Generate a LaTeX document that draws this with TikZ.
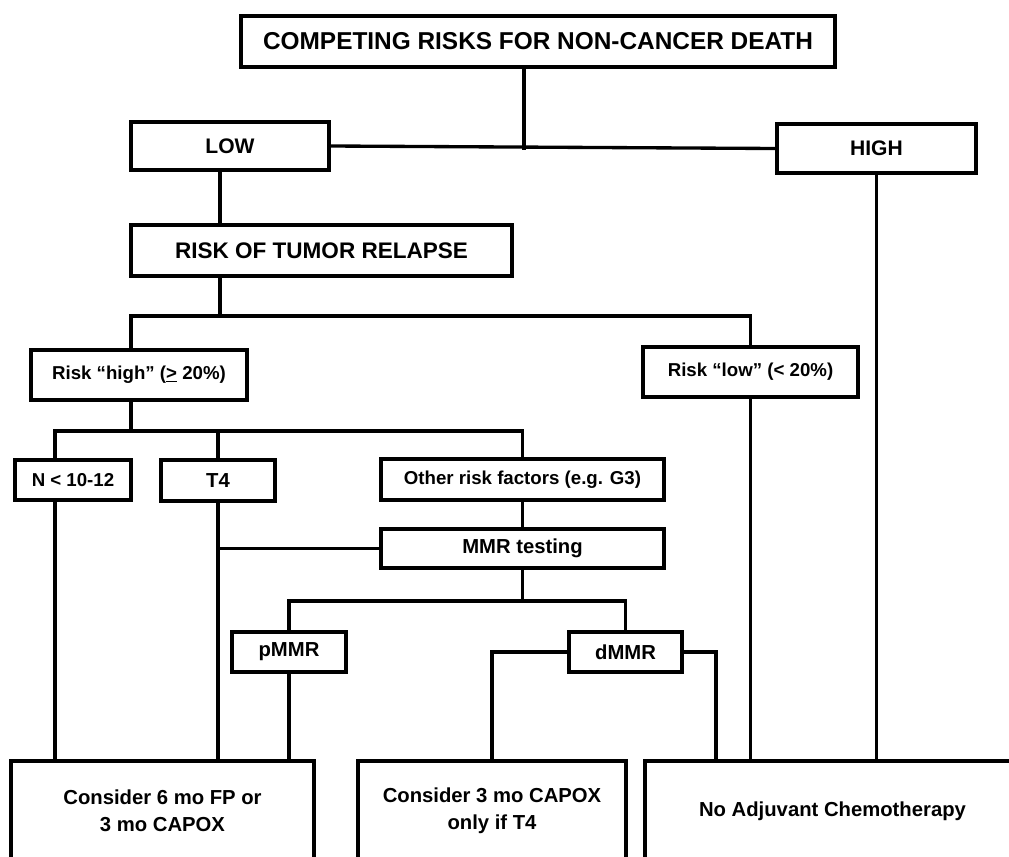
\documentclass[tikz,border=0pt]{standalone}
\usepackage{fontspec}
\setmainfont{Liberation Sans}
\usetikzlibrary{positioning}
\tikzset{
  fc diagram/.style={x=0.75pt, y=-0.75pt, line join=miter, text=black},
  fc size/.style 2 args={minimum width=#1*0.75pt, minimum height=#2*0.75pt},
  fc box/.style={draw, fill=white, line width=2.8pt, inner sep=0pt,
    align=center, font=\bfseries\fontsize{14}{17}\selectfont},
  fc head/.style={fc box, font=\bfseries\fontsize{18.3}{21}\selectfont},
  fc mid/.style={fc box, font=\bfseries\fontsize{15.8}{19}\selectfont},
  fc out/.style={fc box, font=\bfseries\fontsize{15.2}{20}\selectfont},
  fc line/.style={draw, line width=2.5pt, line cap=rect}
}
\begin{document}
\begin{tikzpicture}[fc diagram]
\useasboundingbox (0,0) rectangle (1009,856);
\fill[white] (0,0) rectangle (1009,856);
\clip (0,0) rectangle (1009,856);
% junctions
\coordinate (top split) at (524,148);
\coordinate (relapse split) at (220,316);
\coordinate (high split) at (131,431);
\coordinate (high left) at (55,431);
\coordinate (mmr split) at (522,601);
\coordinate (dmmr right) at (716,651);
% boxes
\node[fc head, fc size={594}{51}] (title) at (538,41.5) {COMPETING RISKS FOR NON-CANCER DEATH};
\node[fc mid, fc size={198}{48}] (low) at (230,146) {LOW};
\node[fc mid, fc size={199}{49}] (high) at (876.5,148.5) {HIGH};
\node[fc head, fc size={381}{51}, font=\bfseries\fontsize{16.9}{20}\selectfont] (relapse) at (321.5,250.5) {RISK OF TUMOR RELAPSE};
\node[fc box, fc size={216}{50}] (riskhigh) at (139,375) {Risk “high” (\underline{>} 20\%)};
\node[fc box, fc size={215}{50}] (risklow) at (750.5,372) {Risk “low” (< 20\%)};
\node[fc box, fc size={116}{40}] (nodes) at (73,480) {N < 10-12};
\node[fc out, fc size={114}{41}] (tfour) at (218,480.5) {T4};
\node[fc box, fc size={283}{41}] (other) at (522.5,479.5) {Other risk factors (e.g. G3)};
\node[fc out, fc size={283}{39}] (mmr) at (522.5,548.5) {MMR testing};
\node[fc out, fc size={114}{40}] (pmmr) at (289,652) {pMMR};
\node[fc out, fc size={113}{40}] (dmmr) at (625.5,652) {dMMR};
\node[fc out, fc size={303}{100}] (six) at (162.5,811) {Consider 6 mo FP or\\3 mo CAPOX};
\node[fc out, fc size={268}{100}] (three) at (492,811) {Consider 3 mo CAPOX\\only if T4};
\node[fc out, fc size={375}{100}] (none) at (832.5,811) {No Adjuvant Chemotherapy};
% connectors
\draw[fc line] (title.south -| top split) -- (top split);
\draw[fc line] (low.east) -- (high.west);
\draw[fc line] (low.south -| relapse split) -- (relapse.north -| relapse split);
\draw[fc line] (relapse.south -| relapse split) -- (relapse split);
\draw[fc line] (riskhigh.north -| high split) |- (risklow.north |- relapse split) -- (risklow.north);
\draw[fc line] (riskhigh.south -| high split) -- (high split);
\draw[fc line] (nodes.north -| high left) |- (other.north |- high split) -- (other.north);
\draw[fc line] (tfour.north) -- (tfour.north |- high split);
\draw[fc line] (nodes.south -| high left) -- (six.north -| high left);
\draw[fc line] (tfour.south) -- (six.north -| tfour.south);
\draw[fc line] (tfour.south |- mmr.west) -- (mmr.west);
\draw[fc line] (other.south) -- (mmr.north);
\draw[fc line] (mmr.south) -- (mmr.south |- mmr split);
\draw[fc line] (pmmr.north) |- (dmmr.north |- mmr split) -- (dmmr.north);
\draw[fc line] (pmmr.south) -- (six.north -| pmmr.south);
\draw[fc line] (dmmr.west) -| (three.north);
\draw[fc line] (dmmr.east) -| (none.north -| dmmr right);
\draw[fc line] (risklow.south) -- (none.north -| risklow.south);
\draw[fc line] (high.south) -- (none.north -| high.south);
\end{tikzpicture}
\end{document}
